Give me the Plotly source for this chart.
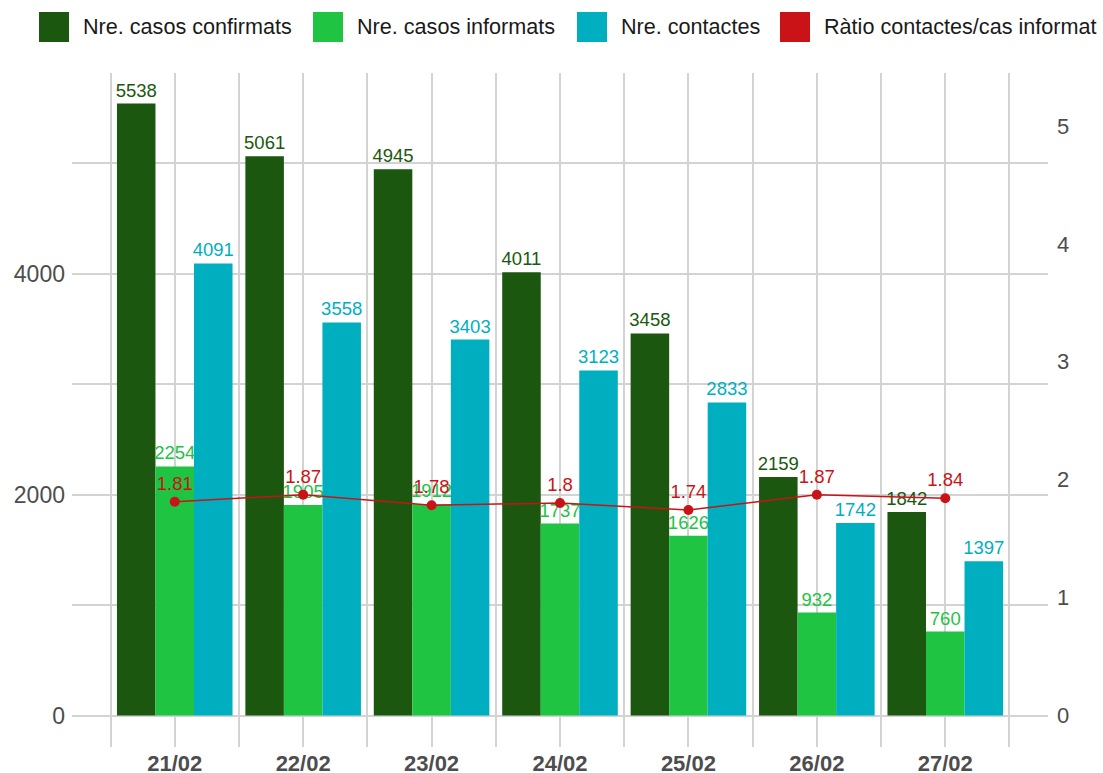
import plotly.graph_objects as go

# ---- data ----
dates = ["21/02", "22/02", "23/02", "24/02", "25/02", "26/02", "27/02"]
casos_confirmats = [5538, 5061, 4945, 4011, 3458, 2159, 1842]
casos_informats = [2254, 1905, 1912, 1737, 1626, 932, 760]
contactes = [4091, 3558, 3403, 3123, 2833, 1742, 1397]
ratio = [1.81, 1.87, 1.78, 1.80, 1.74, 1.87, 1.84]

series_names = ["Nre. casos confirmats", "Nre. casos informats", "Nre. contactes",
                "Ràtio contactes/cas informat"]
colors = ["#1b570e", "#20c443", "#00afbf", "#c91316"]

W, H = 1103, 773
ML, MR, MT, MB = 72, 55, 73, 26
PW, PH = W - ML - MR, H - MT - MB

x = list(range(len(dates)))
FONT = "Liberation Sans, Arial, sans-serif"

fig = go.Figure()
for vals, name, col in zip([casos_confirmats, casos_informats, contactes], series_names[:3], colors[:3]):
    fig.add_trace(go.Bar(
        x=x, y=vals, name=name, marker=dict(color=col, line=dict(width=0)),
        text=[str(v) for v in vals], textposition="outside", constraintext="none",
        textfont=dict(color=col, size=18.5, family=FONT), cliponaxis=False,
        showlegend=False, yaxis="y"))

fig.add_trace(go.Scatter(
    x=x, y=ratio, name=series_names[3], yaxis="y2",
    mode="lines+markers+text", line=dict(color=colors[3], width=1.5),
    marker=dict(color=colors[3], size=10),
    text=[f"{v:g}" for v in ratio], textposition="top center",
    textfont=dict(color=colors[3], size=18.5, family=FONT),
    cliponaxis=False, showlegend=False))

grid = "#d3d3d3"
fig.update_layout(
    width=W, height=H, margin=dict(l=ML, r=MR, t=MT, b=MB, autoexpand=False),
    paper_bgcolor="white", plot_bgcolor="white",
    barmode="group", bargap=0.1, bargroupgap=0,
    font=dict(family=FONT, color="#4d4d4d"),
    xaxis=dict(range=[-0.8, 6.8], tickmode="array", tickvals=x, ticktext=dates,
               showgrid=True, gridcolor=grid, gridwidth=1.5, automargin=False,
               minor=dict(tick0=0.5, dtick=1, showgrid=True, gridcolor=grid, gridwidth=1.5),
               tickfont=dict(size=22, family="Liberation Sans, Arial", color="#4d4d4d", weight="bold"),
               zeroline=False, showline=False, ticks="", ticklabelstandoff=1),
    yaxis=dict(range=[-285, 5815], tickmode="array", tickvals=[0, 2000, 4000],
               showgrid=True, gridcolor=grid, gridwidth=1.5, automargin=False,
               minor=dict(dtick=1000, showgrid=True, gridcolor=grid, gridwidth=1.5),
               zeroline=True, zerolinecolor=grid, zerolinewidth=1.5,
               tickfont=dict(size=23, color="#4d4d4d"), ticks="", ticklabelstandoff=6),
    yaxis2=dict(range=[-0.272, 5.45], overlaying="y", side="right",
                tickmode="array", tickvals=[0, 1, 2, 3, 4, 5], automargin=False,
                showgrid=False, zeroline=False,
                tickfont=dict(size=22, color="#4d4d4d"), ticks="", ticklabelstandoff=8),
)

# ---- legend drawn as swatches + text (top of figure) ----
def px_x(px):
    return (px - ML) / PW

def px_y(py):
    return (H - MB - py) / PH

sw_left = [39, 313, 577, 780]
for left, name, col in zip(sw_left, series_names, colors):
    fig.add_shape(type="rect", xref="paper", yref="paper",
                  x0=px_x(left), x1=px_x(left + 30), y0=px_y(42), y1=px_y(12),
                  fillcolor=col, line=dict(width=0))
    fig.add_annotation(xref="paper", yref="paper", x=px_x(left + 42), y=px_y(27),
                       xanchor="left", yanchor="middle", text=name, showarrow=False,
                       font=dict(size=21.6, color="#1a1a1a", family=FONT))

fig.write_html("out.html", config={"displayModeBar": False},
               post_script="document.body.style.margin='0px';")
